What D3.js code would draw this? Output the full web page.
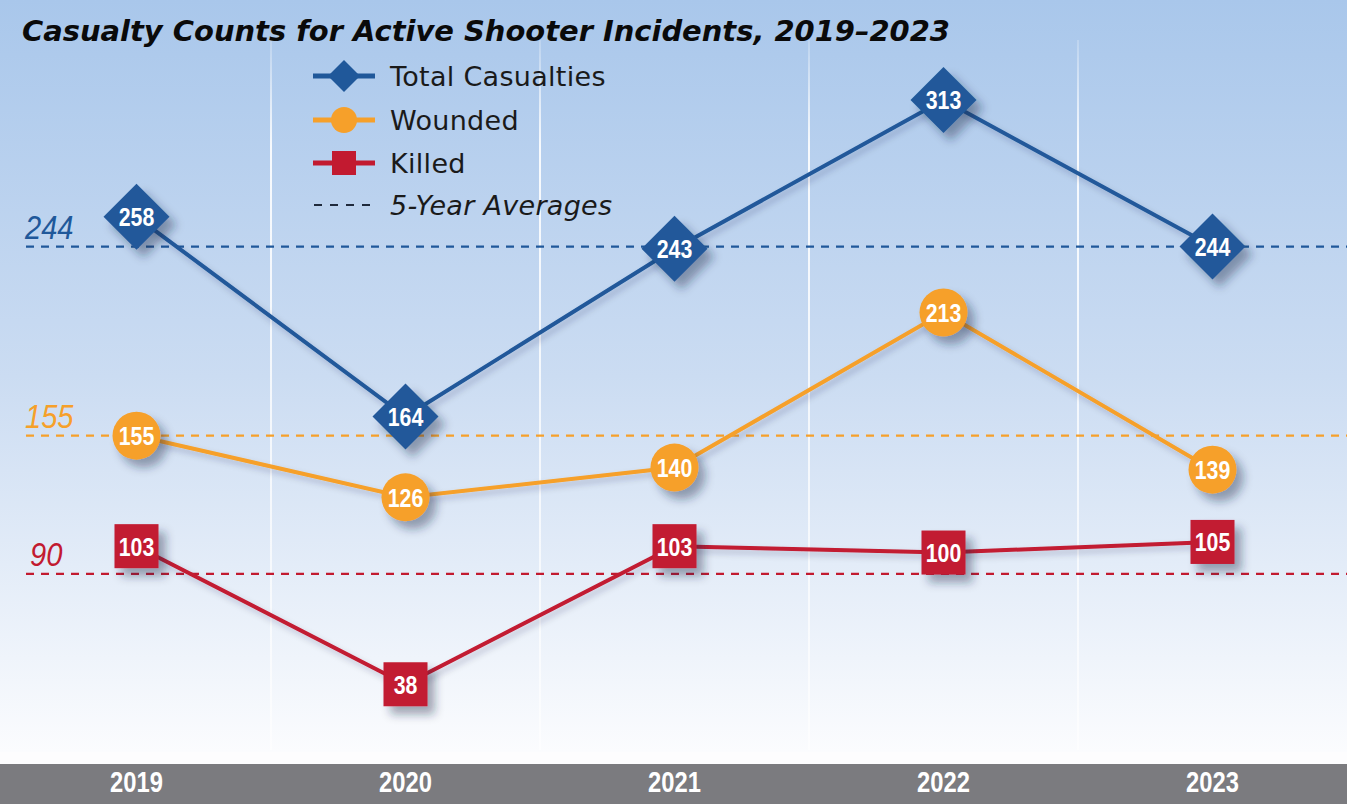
<!DOCTYPE html>
<html>
<head>
<meta charset="utf-8">
<script src="https://cdn.jsdelivr.net/npm/d3@7"></script>
<style>
  html, body { margin: 0; padding: 0; background: #fff; }
  svg { display: block; }
</style>
</head>
<body>
<svg id="chart" width="1347" height="804"></svg>
<script>
// Casualty counts by year
const years = ["2019", "2020", "2021", "2022", "2023"];
const totalCasualties = [258, 164, 243, 313, 244];
const wounded = [155, 126, 140, 213, 139];
const killed = [103, 38, 103, 100, 105];
// Five-year averages
const averages = [244, 155, 90];
const seriesNames = ["Total Casualties", "Wounded", "Killed"];
const averageLabel = "5-Year Averages";
const title = "Casualty Counts for Active Shooter Incidents, 2019\u20132023";

const W = 1347, H = 804;
const colors = { blue: "#20589a", orange: "#f6a02a", red: "#c21a30" };
const narrowFont = "'Liberation Sans', 'Roboto', sans-serif";

const svg = d3.select("#chart");
const defs = svg.append("defs");

// background gradient
const bg = defs.append("linearGradient").attr("id", "bg").attr("x1", 0).attr("y1", 0).attr("x2", 0).attr("y2", 1);
bg.append("stop").attr("offset", "0%").attr("stop-color", "#a9c7eb");
bg.append("stop").attr("offset", "50%").attr("stop-color", "#cbdcf2");
bg.append("stop").attr("offset", "100%").attr("stop-color", "#fbfcfe");

const gl = defs.append("linearGradient").attr("id", "grid").attr("x1", 0).attr("y1", 0).attr("x2", 0).attr("y2", 1);
gl.append("stop").attr("offset", "0%").attr("stop-color", "#fff").attr("stop-opacity", 0.2);
gl.append("stop").attr("offset", "15%").attr("stop-color", "#fff").attr("stop-opacity", 0.9);
gl.append("stop").attr("offset", "100%").attr("stop-color", "#fff").attr("stop-opacity", 0.6);

const shadow = defs.append("filter").attr("id", "shadow").attr("x", "-50%").attr("y", "-50%").attr("width", "220%").attr("height", "220%");
shadow.append("feDropShadow").attr("dx", 7).attr("dy", 8).attr("stdDeviation", 5)
  .attr("flood-color", "#1a2a45").attr("flood-opacity", 0.4);

const lineShadow = defs.append("filter").attr("id", "lshadow").attr("x", "-10%").attr("y", "-20%").attr("width", "130%").attr("height", "150%");
lineShadow.append("feDropShadow").attr("dx", 3).attr("dy", 4).attr("stdDeviation", 3)
  .attr("flood-color", "#1a2a45").attr("flood-opacity", 0.22);

svg.append("rect").attr("width", W).attr("height", 752).attr("fill", "url(#bg)");
svg.append("rect").attr("y", 752).attr("width", W).attr("height", 12).attr("fill", "#fdfdfe");

// scales
const x = d3.scaleBand().domain(years).range([2, W]);
const cx = d => x(d) + x.bandwidth() / 2;
const y = d3.scaleLinear().domain([0, 313]).range([765, 100]);

// vertical separators between years
svg.append("g").selectAll("rect").data(years.slice(1)).join("rect")
  .attr("x", d => x(d) - 1).attr("y", 40).attr("width", 2).attr("height", 710)
  .attr("fill", "url(#grid)");

// bottom axis band
svg.append("rect").attr("y", 764).attr("width", W).attr("height", 40).attr("fill", "#7b7b7f");
const xAxis = d3.axisBottom(x).tickSize(0).tickPadding(0);
const axisG = svg.append("g").attr("transform", "translate(0,771)").call(xAxis);
axisG.select(".domain").remove();
axisG.selectAll("text")
  .attr("fill", "#fff").attr("dy", "0.71em").attr("transform", "scale(0.82,1)")
  .style("font-family", narrowFont)
  .style("font-weight", "bold").style("font-size", "29px");

// average lines
const avgColors = [colors.blue, colors.orange, colors.red];
const avgG = svg.append("g");
averages.forEach((a, i) => {
  avgG.append("line").attr("x1", 26).attr("x2", W).attr("y1", y(a)).attr("y2", y(a))
    .attr("stroke", avgColors[i]).attr("stroke-width", 2.2).attr("stroke-dasharray", "8,7");
  avgG.append("text").attr("transform", `translate(${i === 2 ? 30 : 25},${y(a) - 8}) scale(0.88,1)`)
    .attr("fill", avgColors[i]).style("font-family", narrowFont)
    .style("font-style", "italic").style("font-size", "33px").text(a);
});

// series lines and markers
const series = [
  { name: seriesNames[0], values: totalCasualties, color: colors.blue, shape: "diamond" },
  { name: seriesNames[1], values: wounded, color: colors.orange, shape: "circle" },
  { name: seriesNames[2], values: killed, color: colors.red, shape: "square" }
];
const line = d3.line().x((d, i) => cx(years[i])).y(d => y(d));

function drawMarker(g, shape, color, size) {
  if (shape === "diamond") {
    g.append("path").attr("d", `M0,${-size}L${size},0L0,${size}L${-size},0Z`).attr("fill", color);
  } else if (shape === "circle") {
    g.append("circle").attr("r", size).attr("fill", color);
  } else {
    g.append("rect").attr("x", -size).attr("y", -size).attr("width", size * 2).attr("height", size * 2).attr("fill", color);
  }
}
const markerSize = { diamond: 33, circle: 24, square: 22 };

series.forEach(s => {
  svg.append("path").datum(s.values).attr("d", line).attr("fill", "none")
    .attr("stroke", s.color).attr("stroke-width", 4).attr("filter", "url(#lshadow)");
});
series.forEach(s => {
  const g = svg.append("g");
  s.values.forEach((v, i) => {
    const m = g.append("g").attr("transform", `translate(${cx(years[i])},${y(v)})`);
    const sh = m.append("g").attr("filter", "url(#shadow)");
    drawMarker(sh, s.shape, s.color, markerSize[s.shape]);
    m.append("text").attr("text-anchor", "middle").attr("dy", "0.36em").attr("transform", "scale(0.82,1)")
      .attr("fill", "#fff").style("font-family", narrowFont)
      .style("font-weight", "bold").style("font-size", "26px").text(v);
  });
});

// title
svg.append("text").attr("x", 22).attr("y", 41).attr("fill", "#0a0a0a")
  .style("font-family", "'DejaVu Sans', sans-serif").style("font-weight", "bold")
  .style("font-style", "italic").style("font-size", "29px")
  .attr("textLength", 928).attr("lengthAdjust", "spacingAndGlyphs").text(title);

// legend
const legend = svg.append("g");
const rowsY = [76, 120, 163, 205];
series.forEach((s, i) => {
  const r = legend.append("g").attr("transform", `translate(344,${rowsY[i]})`);
  r.append("line").attr("x1", -31).attr("x2", 31).attr("stroke", s.color).attr("stroke-width", 5);
  const sz = { diamond: 16, circle: 13, square: 12 }[s.shape];
  drawMarker(r, s.shape, s.color, sz);
  r.append("text").attr("x", 46).attr("dy", "0.36em").attr("fill", "#1a1a1a")
    .style("font-family", "'DejaVu Sans', sans-serif").style("font-size", "27px")
    .style("letter-spacing", "0.3px").text(s.name);
});
const avgRow = legend.append("g").attr("transform", `translate(344,${rowsY[3]})`);
avgRow.append("line").attr("x1", -30).attr("x2", 28).attr("stroke", "#1f2a3c")
  .attr("stroke-width", 2.2).attr("stroke-dasharray", "8,8");
avgRow.append("text").attr("x", 46).attr("dy", "0.36em").attr("fill", "#1a1a1a")
  .style("font-family", "'DejaVu Sans', sans-serif").style("font-style", "italic")
  .style("font-size", "27px").style("letter-spacing", "0.3px").text(averageLabel);
</script>
</body>
</html>
